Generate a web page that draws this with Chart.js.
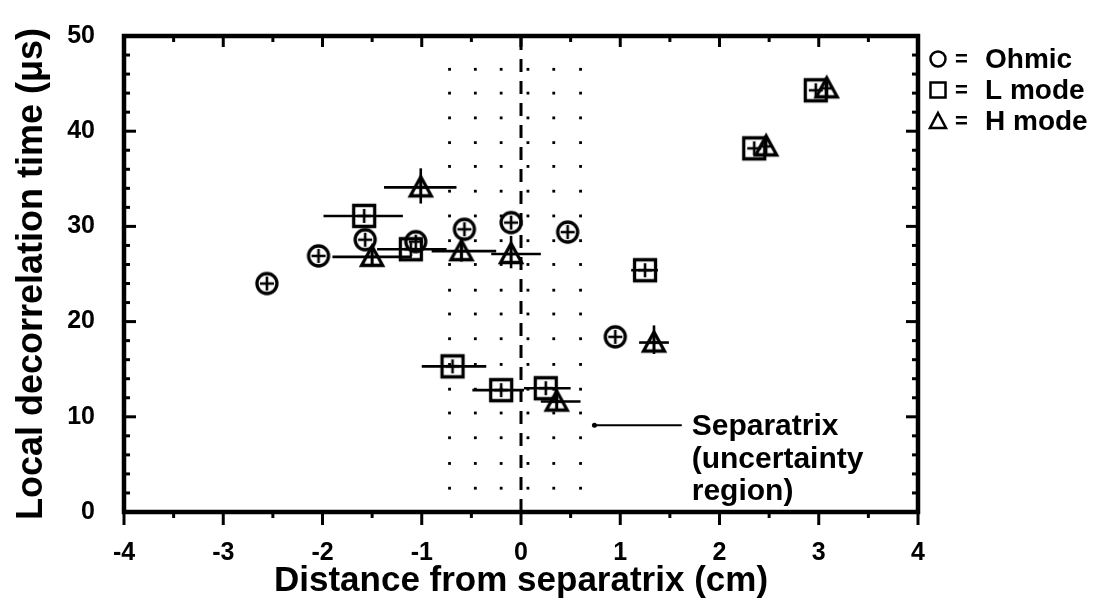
<!DOCTYPE html>
<html lang="en">
<head>
<meta charset="UTF-8">
<title>Local decorrelation time vs distance from separatrix</title>
<script src="https://cdn.jsdelivr.net/npm/chart.js"></script>
<style>
  body { margin: 0; background: #fff; }
  #wrap { width: 1102px; height: 602px; }
</style>
</head>
<body>
<div id="wrap"><canvas id="tauChart" width="1102" height="602"></canvas></div>
<script>
// axis ticks
const xTicks = [-4, -3, -2, -1, 0, 1, 2, 3, 4];
const xMinorTicks = [-3.5, -2.5, -1.5, -0.5, 0.5, 1.5, 2.5, 3.5];
const yTicks = [0, 10, 20, 30, 40, 50];
const yMinorTicks = [2, 4, 6, 8, 12, 14, 16, 18, 22, 24, 26, 28, 32, 34, 36, 38, 42, 44, 46, 48];

// Ohmic
const ohmicX = [-2.56, -2.04, -1.57, -1.06, -0.57, -0.10, 0.47, 0.95];
const ohmicY = [24.0, 26.9, 28.6, 28.4, 29.7, 30.4, 29.4, 18.4];

// L mode
const lModeX = [-1.58, -1.11, -0.69, -0.20, 0.25, 1.25, 2.35, 2.97];
const lModeY = [31.1, 27.6, 15.3, 12.8, 13.0, 25.4, 38.2, 44.3];
const lModeXLo = [-1.99, -1.45, -1.00, -0.49, 0.03, 1.11, null, null];
const lModeXHi = [-1.19, -0.75, -0.35, 0.03, 0.50, 1.38, null, null];

// H mode
const hModeX = [-1.50, -1.01, -0.60, -0.10, 0.36, 1.34, 2.47, 3.08];
const hModeY = [26.8, 34.1, 27.4, 27.1, 11.6, 17.8, 38.4, 44.5];
const hModeXLo = [-1.90, -1.38, -0.90, -0.30, 0.20, 1.19, null, null];
const hModeXHi = [-1.10, -0.65, -0.25, 0.20, 0.60, 1.49, null, null];
const hModeYLo = [25.8, 32.4, 26.3, 25.6, 10.8, 16.6, null, null];
const hModeYHi = [27.8, 36.1, 28.6, 29.0, 12.4, 19.6, null, null];

// separatrix and its dotted uncertainty region
const regionX = [-0.72, -0.46, -0.20, 0.07, 0.33, 0.60];
const regionY = [2.5, 5.1, 7.8, 10.4, 12.9, 15.5, 18.2, 20.8, 23.3, 26.0, 28.5, 31.1, 33.7, 36.3, 38.8, 41.4, 44.0, 46.5];
const separatrixX = [0, 0];
const separatrixY = [0, 50];
const noteLineX = [0.74, 1.62];
const noteLineY = [9.1, 9.1];
const noteText = ['Separatrix', '(uncertainty', 'region)'];
const noteTextX = 1.72;
const noteTextY = [9.0, 5.5, 2.1];

const FONT = "'Liberation Sans', Arial, sans-serif";

function pts(xs, ys) {
  return xs.map((v, i) => ({ x: v, y: ys[i] }));
}

// hollow markers with the small cross through them
function makeMarker(kind) {
  const c = document.createElement('canvas');
  c.width = 30; c.height = 30;
  const g = c.getContext('2d');
  g.strokeStyle = '#000';
  g.lineWidth = 3.3;
  g.beginPath();
  if (kind === 'circle') g.arc(15, 15, 10, 0, Math.PI * 2);
  else if (kind === 'square') g.rect(4.5, 4.5, 21, 21);
  else { g.moveTo(15, 4.5); g.lineTo(25.5, 23.5); g.lineTo(4.5, 23.5); g.closePath(); }
  g.stroke();
  g.lineWidth = 2.6;
  g.beginPath();
  g.moveTo(15, 8); g.lineTo(15, 22);
  g.moveTo(8, 15); g.lineTo(22, 15);
  g.stroke();
  return c;
}

const regionDots = [];
regionX.forEach(xv => regionY.forEach(yv => regionDots.push({ x: xv, y: yv })));

const errorBars = {
  id: 'errorBars',
  beforeDatasetsDraw(chart) {
    const { ctx, scales: { x, y } } = chart;
    ctx.save();
    ctx.strokeStyle = '#000';
    ctx.lineWidth = 2.6;
    chart.data.datasets.forEach(ds => {
      const e = ds.errors;
      if (!e) return;
      ds.data.forEach((p, i) => {
        const px = x.getPixelForValue(p.x), py = y.getPixelForValue(p.y);
        if (e.xLo && e.xLo[i] != null) {
          ctx.beginPath();
          ctx.moveTo(x.getPixelForValue(e.xLo[i]), py);
          ctx.lineTo(x.getPixelForValue(e.xHi[i]), py);
          ctx.stroke();
        }
        if (e.yLo && e.yLo[i] != null) {
          ctx.beginPath();
          ctx.moveTo(px, y.getPixelForValue(e.yLo[i]));
          ctx.lineTo(px, y.getPixelForValue(e.yHi[i]));
          ctx.stroke();
        }
      });
    });
    ctx.restore();
  }
};

const frame = {
  id: 'frame',
  afterDraw(chart) {
    const { ctx, chartArea: a, scales: { x, y } } = chart;
    ctx.save();
    ctx.strokeStyle = '#000';
    ctx.lineWidth = 4.5;
    ctx.strokeRect(a.left, a.top, a.right - a.left, a.bottom - a.top);
    ctx.lineWidth = 3;
    const seg = (x1, y1, x2, y2) => { ctx.beginPath(); ctx.moveTo(x1, y1); ctx.lineTo(x2, y2); ctx.stroke(); };
    xTicks.forEach(v => {
      const px = x.getPixelForValue(v);
      seg(px, a.bottom, px, a.bottom + 13);
      seg(px, a.top, px, a.top + 11);
    });
    xMinorTicks.forEach(v => {
      const px = x.getPixelForValue(v);
      seg(px, a.bottom, px, a.bottom + 6);
      seg(px, a.top, px, a.top + 6);
    });
    yTicks.forEach(v => {
      const py = y.getPixelForValue(v);
      seg(a.left, py, a.left + 12, py);
      seg(a.right, py, a.right - 12, py);
    });
    yMinorTicks.forEach(v => {
      const py = y.getPixelForValue(v);
      seg(a.left, py, a.left + 6, py);
      seg(a.right, py, a.right - 6, py);
    });
    ctx.restore();
  }
};

const notes = {
  id: 'notes',
  afterDraw(chart) {
    const { ctx, chartArea: a, scales: { x, y } } = chart;
    ctx.save();
    ctx.fillStyle = '#000';
    ctx.strokeStyle = '#000';
    // separatrix label
    ctx.font = 'bold 30px ' + FONT;
    ctx.textAlign = 'left';
    ctx.textBaseline = 'middle';
    noteText.forEach((t, i) => ctx.fillText(t, x.getPixelForValue(noteTextX), y.getPixelForValue(noteTextY[i])));
    // legend
    chart.data.datasets.forEach((ds, i) => {
      if (!ds.legendKind) return;
      const cx = a.right + 20, cy = a.top + 23 + i * 31;
      ctx.lineWidth = 2.5;
      ctx.beginPath();
      if (ds.legendKind === 'circle') ctx.arc(cx, cy, 7.5, 0, Math.PI * 2);
      else if (ds.legendKind === 'square') ctx.rect(cx - 7.5, cy - 7.5, 15, 15);
      else { ctx.moveTo(cx, cy - 8); ctx.lineTo(cx + 8, cy + 7); ctx.lineTo(cx - 8, cy + 7); ctx.closePath(); }
      ctx.stroke();
      ctx.font = 'bold 22px ' + FONT;
      ctx.fillText('=', cx + 17, cy + 1);
      ctx.font = 'bold 28px ' + FONT;
      ctx.fillText(ds.label, cx + 47, cy + 1);
    });
    ctx.restore();
  }
};

new Chart(document.getElementById('tauChart'), {
  type: 'scatter',
  data: {
    datasets: [
      {
        label: 'Ohmic', legendKind: 'circle',
        data: pts(ohmicX, ohmicY),
        pointStyle: makeMarker('circle'),
        errors: null
      },
      {
        label: 'L mode', legendKind: 'square',
        data: pts(lModeX, lModeY),
        pointStyle: makeMarker('square'),
        errors: { xLo: lModeXLo, xHi: lModeXHi }
      },
      {
        label: 'H mode', legendKind: 'triangle',
        data: pts(hModeX, hModeY),
        pointStyle: makeMarker('triangle'),
        errors: { xLo: hModeXLo, xHi: hModeXHi, yLo: hModeYLo, yHi: hModeYHi }
      },
      {
        label: 'note line',
        data: pts(noteLineX, noteLineY),
        showLine: true, borderColor: '#000', borderWidth: 2,
        pointRadius: [2.5, 0], pointBackgroundColor: '#000', pointBorderWidth: 0
      },
      {
        label: 'separatrix',
        data: pts(separatrixX, separatrixY),
        showLine: true, borderColor: '#000', borderWidth: 3, borderDash: [13, 9],
        pointRadius: 0
      },
      {
        label: 'uncertainty region',
        data: regionDots,
        pointRadius: 2, pointStyle: 'rect',
        pointBackgroundColor: '#000', pointBorderWidth: 0
      }
    ]
  },
  options: {
    responsive: false,
    animation: false,
    events: [],
    layout: { padding: { top: 15, right: 184, left: 0, bottom: 0 } },
    plugins: { legend: { display: false }, tooltip: { enabled: false } },
    scales: {
      x: {
        type: 'linear', min: -4, max: 4,
        afterBuildTicks: s => { s.ticks = xTicks.map(v => ({ value: v })); },
        afterFit: s => { s.height = 90; },
        grid: { display: false }, border: { display: false },
        ticks: { color: '#000', padding: 18, font: { family: FONT, size: 25, weight: 'bold' } },
        title: {
          display: true, text: 'Distance from separatrix (cm)', color: '#000',
          padding: { top: 0, bottom: 0 },
          font: { family: FONT, size: 35, weight: 'bold' }
        }
      },
      y: {
        type: 'linear', min: 0, max: 50,
        afterBuildTicks: s => { s.ticks = yTicks.map(v => ({ value: v })); },
        afterFit: s => { s.width = 124; },
        grid: { display: false }, border: { display: false },
        ticks: { color: '#000', padding: 21, font: { family: FONT, size: 25, weight: 'bold' } },
        title: {
          display: true, text: 'Local decorrelation time (μs)', color: '#000',
          padding: { top: 10, bottom: 0 },
          font: { family: FONT, size: 36, weight: 'bold' }
        }
      }
    }
  },
  plugins: [errorBars, frame, notes]
});
</script>
</body>
</html>
